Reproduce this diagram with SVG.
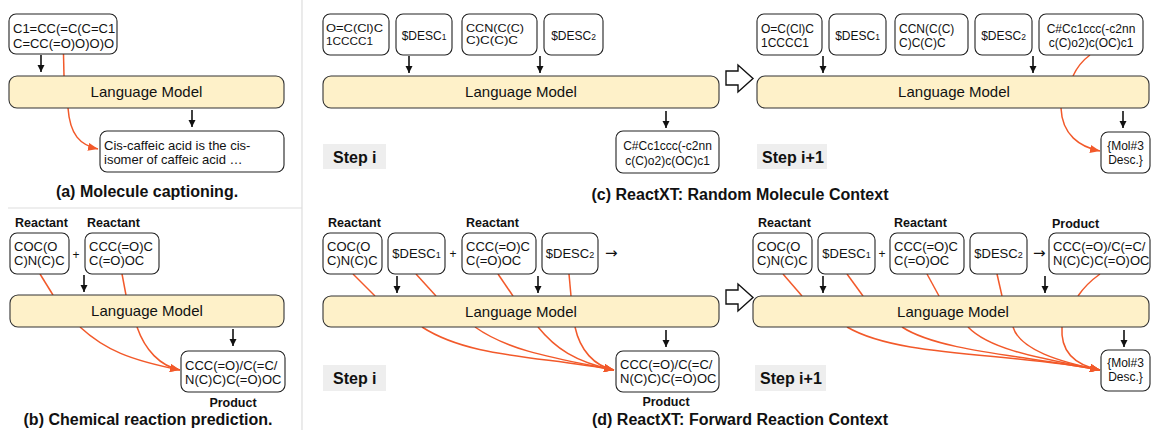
<svg xmlns="http://www.w3.org/2000/svg" width="1151" height="430" viewBox="0 0 1151 430">
<style>
text{font-family:"Liberation Sans",Arial,"DejaVu Sans",sans-serif;fill:#111}
.box{fill:#fff;stroke:#222;stroke-width:1.1}
.lm{fill:#fef1c9;stroke:#333;stroke-width:1.1}
.lmt{font-size:15px;text-anchor:middle}
.t13{font-size:13px}
.t12{font-size:12px}
.t11{font-size:11px}
.b{font-weight:bold}
.cap{font-size:16px;font-weight:bold;text-anchor:middle}
.lab{font-size:12.5px;font-weight:bold}
.mid{text-anchor:middle}
.arr{font-family:"DejaVu Sans",sans-serif;font-size:15px}
.step{fill:#eeeeee}
.stept{font-size:16px;font-weight:bold}
.blk{stroke:#111;stroke-width:1.6;fill:none;marker-end:url(#ab)}
.or{stroke:#f2592a;stroke-width:1.5;fill:none}
.ora{stroke:#f2592a;stroke-width:1.5;fill:none;marker-end:url(#ao)}
.sep{stroke:#dddddd;stroke-width:1.2}
.hol{fill:#fff;stroke:#111;stroke-width:1.4}
</style>
<defs>
<marker id="ab" markerUnits="userSpaceOnUse" markerWidth="8" markerHeight="8" refX="7" refY="3.5" orient="auto"><path d="M0,0 L7,3.5 L0,7 z" fill="#111"/></marker>
<marker id="ao" markerUnits="userSpaceOnUse" markerWidth="12" markerHeight="10" refX="10" refY="4" orient="auto"><path d="M0,0 L10,4 L0,8 z" fill="#f2592a"/></marker>
</defs>

<g id="separators">
<line class="sep" x1="302" y1="0" x2="302" y2="430"/>
<line class="sep" x1="8" y1="208" x2="302" y2="208"/>
</g>

<g id="connectors">
<!-- panel a -->
<line class="blk" x1="41" y1="55" x2="41" y2="72"/>
<line class="or" x1="63.5" y1="54" x2="64" y2="76"/>
<line class="blk" x1="192" y1="110" x2="192" y2="127"/>
<path class="ora" d="M68,108 C70,135 80,145 98,149"/>
<!-- panel b -->
<line class="or" x1="40" y1="274" x2="53" y2="295"/>
<line class="or" x1="122" y1="274" x2="126" y2="295"/>
<line class="blk" x1="84" y1="275" x2="84" y2="292"/>
<line class="blk" x1="233" y1="329" x2="233" y2="346"/>
<path class="ora" d="M80,327 C105,350 130,360 180,370"/>
<path class="ora" d="M137,327 C145,350 160,366 180,370"/>
<!-- panel c left -->
<line class="blk" x1="409" y1="56" x2="409" y2="73"/>
<line class="blk" x1="540" y1="56" x2="540" y2="73"/>
<line class="blk" x1="666" y1="111" x2="666" y2="128"/>
<!-- panel c right -->
<line class="blk" x1="823" y1="56" x2="823" y2="73"/>
<line class="blk" x1="1033" y1="56" x2="1033" y2="73"/>
<path class="or" d="M1090,55 Q1079,63 1073,76"/>
<line class="blk" x1="1123" y1="111" x2="1123" y2="128"/>
<path class="ora" d="M1061,108 C1062,135 1080,147 1100,151"/>
<!-- panel d left -->
<line class="or" x1="353" y1="274" x2="375" y2="296"/>
<line class="or" x1="416" y1="274" x2="436" y2="296"/>
<line class="or" x1="498" y1="274" x2="513" y2="296"/>
<path class="or" d="M569,274 Q570,285 571,296"/>
<line class="blk" x1="397" y1="276" x2="397" y2="293"/>
<line class="blk" x1="538" y1="276" x2="538" y2="293"/>
<line class="blk" x1="666" y1="330" x2="666" y2="347"/>
<path class="ora" d="M422,327 C470,358 540,356 614,370"/>
<path class="ora" d="M475,327 C510,352 560,359 614,370"/>
<path class="ora" d="M538,327 C555,348 575,362 614,370"/>
<path class="ora" d="M575,327 C580,350 594,366 614,370"/>
<!-- panel d right -->
<line class="or" x1="783" y1="274" x2="802" y2="296"/>
<line class="or" x1="847" y1="274" x2="863" y2="296"/>
<line class="or" x1="927" y1="274" x2="939" y2="296"/>
<line class="or" x1="997" y1="274" x2="1002" y2="296"/>
<path class="or" d="M1100,274 Q1086,284 1078,296"/>
<line class="blk" x1="823" y1="276" x2="823" y2="293"/>
<line class="blk" x1="1045" y1="276" x2="1045" y2="293"/>
<line class="blk" x1="1124" y1="330" x2="1124" y2="347"/>
<path class="ora" d="M847,327 C900,358 1010,352 1100,370"/>
<path class="ora" d="M902,327 C940,352 1030,356 1100,370"/>
<path class="ora" d="M968,327 C990,350 1040,358 1100,370"/>
<path class="ora" d="M1013,327 C1020,350 1060,362 1100,370"/>
<path class="ora" d="M1062,327 C1060,355 1080,366 1100,370"/>
<!-- step transition arrows -->
<polygon class="hol" points="726,71 738,71 738,65 753,78.5 738,92 738,85 726,85"/>
<polygon class="hol" points="726,290 738,290 738,284 753,297.5 738,311 738,304 726,304"/>
</g>

<!-- ===== Panel a ===== -->
<g id="a-input">
<rect class="box" x="9" y="14" width="108" height="40" rx="7"/>
<text class="t13" x="13" y="33">C1=CC(=C(C=C1</text>
<text class="t13" x="13" y="48">C=CC(=O)O)O)O</text>
</g>
<g id="a-lm">
<rect class="lm" x="9" y="76" width="275" height="32" rx="8"/>
<text class="lmt" x="146.5" y="97">Language Model</text>
</g>
<g id="a-output">
<rect class="box" x="100" y="131" width="184" height="41" rx="7"/>
<text class="t13" x="104" y="150">Cis-caffeic acid is the cis-</text>
<text class="t13" x="104" y="164">isomer of caffeic acid …</text>
</g>
<text class="cap" x="147" y="197">(a) Molecule captioning.</text>

<!-- ===== Panel b ===== -->
<g id="b-r1">
<text class="lab" x="15" y="227">Reactant</text>
<rect class="box" x="10" y="233" width="59" height="41" rx="7"/>
<text class="t13" x="14" y="250.5">COC(O</text>
<text class="t13" x="14" y="265">C)N(C)C</text>
</g>
<text class="t12" x="76" y="259" text-anchor="middle">+</text>
<g id="b-r2">
<text class="lab" x="87" y="227">Reactant</text>
<rect class="box" x="85" y="233" width="74" height="41" rx="7"/>
<text class="t13" x="89" y="250.5">CCC(=O)C</text>
<text class="t13" x="89" y="265">C(=O)OC</text>
</g>
<g id="b-lm">
<rect class="lm" x="10" y="295" width="274" height="32" rx="8"/>
<text class="lmt" x="147" y="316">Language Model</text>
</g>
<g id="b-product">
<rect class="box" x="181" y="351" width="104" height="41" rx="7"/>
<text class="t13" x="185" y="369.5">CCC(=O)/C(=C/</text>
<text class="t13" x="185" y="383.5">N(C)C)C(=O)OC</text>
<text class="lab mid" x="233" y="407">Product</text>
</g>
<text class="cap" x="148" y="425">(b) Chemical reaction prediction.</text>

<!-- ===== Panel c left ===== -->
<g id="c1-m1">
<rect class="box" x="323" y="14" width="66" height="41" rx="7"/>
<text class="t11" x="326" y="32" textLength="57" lengthAdjust="spacingAndGlyphs">O=C(Cl)C</text>
<text class="t11" x="326" y="44.5" textLength="47" lengthAdjust="spacingAndGlyphs">1CCCC1</text>
</g>
<g id="c1-d1">
<rect class="box" x="396" y="14" width="56" height="41" rx="7"/>
<text class="t12 mid" x="424" y="39.5">$DESC<tspan font-size="8.5">1</tspan></text>
</g>
<g id="c1-m2">
<rect class="box" x="462" y="14" width="75" height="41" rx="7"/>
<text class="t11" x="466" y="31.5" textLength="58" lengthAdjust="spacingAndGlyphs">CCN(C(C)</text>
<text class="t11" x="466" y="44" textLength="52" lengthAdjust="spacingAndGlyphs">C)C(C)C</text>
</g>
<g id="c1-d2">
<rect class="box" x="544" y="14" width="59" height="41" rx="7"/>
<text class="t12 mid" x="573.5" y="39.5">$DESC<tspan font-size="8.5">2</tspan></text>
</g>
<g id="c1-lm">
<rect class="lm" x="323" y="76" width="396" height="32" rx="8"/>
<text class="lmt" x="521" y="97">Language Model</text>
</g>
<g id="c1-out">
<rect class="box" x="616" y="131" width="103" height="42" rx="7"/>
<text class="t12 mid" x="667.5" y="150">C#Cc1ccc(-c2nn</text>
<text class="t12 mid" x="667.5" y="165">c(C)o2)c(OC)c1</text>
</g>
<g id="c1-step">
<rect class="step" x="323" y="144" width="63" height="25"/>
<text class="stept" x="333" y="163">Step i</text>
</g>

<!-- ===== Panel c right ===== -->
<g id="c2-m1">
<rect class="box" x="757" y="14" width="65" height="41" rx="7"/>
<text class="t12" x="761" y="33">O=C(Cl)C</text>
<text class="t12" x="761" y="46.5">1CCCC1</text>
</g>
<g id="c2-d1">
<rect class="box" x="829" y="14" width="57" height="41" rx="7"/>
<text class="t12 mid" x="857.5" y="39.5">$DESC<tspan font-size="8.5">1</tspan></text>
</g>
<g id="c2-m2">
<rect class="box" x="895" y="14" width="73" height="41" rx="7"/>
<text class="t12" x="899" y="32.5">CCN(C(C)</text>
<text class="t12" x="899" y="46.5">C)C(C)C</text>
</g>
<g id="c2-d2">
<rect class="box" x="975" y="14" width="57" height="41" rx="7"/>
<text class="t12 mid" x="1003.5" y="39.5">$DESC<tspan font-size="8.5">2</tspan></text>
</g>
<g id="c2-m3">
<rect class="box" x="1039" y="14" width="104" height="41" rx="7"/>
<text class="t12 mid" x="1091" y="33">C#Cc1ccc(-c2nn</text>
<text class="t12 mid" x="1091" y="47">c(C)o2)c(OC)c1</text>
</g>
<g id="c2-lm">
<rect class="lm" x="757" y="76" width="392" height="32" rx="8"/>
<text class="lmt" x="954" y="97">Language Model</text>
</g>
<g id="c2-out">
<rect class="box" x="1101" y="132" width="49" height="41" rx="7"/>
<text class="t12 mid" x="1125.5" y="150">{Mol#3</text>
<text class="t12 mid" x="1125.5" y="164">Desc.}</text>
</g>
<g id="c2-step">
<rect class="step" x="757" y="144" width="70" height="25"/>
<text class="stept" x="762" y="163">Step i+1</text>
</g>
<text class="cap" x="740" y="200">(c) ReactXT: Random Molecule Context</text>

<!-- ===== Panel d left ===== -->
<g id="d1-r1">
<text class="lab" x="328" y="227">Reactant</text>
<rect class="box" x="323" y="233" width="59" height="41" rx="7"/>
<text class="t13" x="327" y="250.5">COC(O</text>
<text class="t13" x="327" y="265">C)N(C)C</text>
</g>
<g id="d1-d1">
<rect class="box" x="388" y="233" width="57" height="41" rx="7"/>
<text class="t13 mid" x="416.5" y="258">$DESC<tspan font-size="9">1</tspan></text>
</g>
<text class="t12 mid" x="453" y="258">+</text>
<g id="d1-r2">
<text class="lab" x="466" y="227">Reactant</text>
<rect class="box" x="462" y="233" width="74" height="41" rx="7"/>
<text class="t13" x="466" y="250.5">CCC(=O)C</text>
<text class="t13" x="466" y="265">C(=O)OC</text>
</g>
<g id="d1-d2">
<rect class="box" x="542" y="233" width="56" height="41" rx="7"/>
<text class="t13 mid" x="570" y="258">$DESC<tspan font-size="9">2</tspan></text>
</g>
<text class="arr" x="605" y="258">→</text>
<g id="d1-lm">
<rect class="lm" x="323" y="296" width="396" height="31" rx="8"/>
<text class="lmt" x="521" y="316.5">Language Model</text>
</g>
<g id="d1-product">
<rect class="box" x="616" y="351" width="103" height="41" rx="7"/>
<text class="t13" x="620" y="368.5">CCC(=O)/C(=C/</text>
<text class="t13" x="620" y="383">N(C)C)C(=O)OC</text>
<text class="lab mid" x="666" y="406">Product</text>
</g>
<g id="d1-step">
<rect class="step" x="323" y="365" width="63" height="26"/>
<text class="stept" x="333" y="384">Step i</text>
</g>

<!-- ===== Panel d right ===== -->
<g id="d2-r1">
<text class="lab" x="758" y="227">Reactant</text>
<rect class="box" x="753" y="233" width="59" height="41" rx="7"/>
<text class="t13" x="757" y="250.5">COC(O</text>
<text class="t13" x="757" y="265">C)N(C)C</text>
</g>
<g id="d2-d1">
<rect class="box" x="818" y="233" width="57" height="41" rx="7"/>
<text class="t13 mid" x="846.5" y="258">$DESC<tspan font-size="9">1</tspan></text>
</g>
<text class="t12 mid" x="882" y="258">+</text>
<g id="d2-r2">
<text class="lab" x="894" y="227">Reactant</text>
<rect class="box" x="890" y="233" width="74" height="41" rx="7"/>
<text class="t13" x="894" y="250.5">CCC(=O)C</text>
<text class="t13" x="894" y="265">C(=O)OC</text>
</g>
<g id="d2-d2">
<rect class="box" x="970" y="233" width="57" height="41" rx="7"/>
<text class="t13 mid" x="998.5" y="258">$DESC<tspan font-size="9">2</tspan></text>
</g>
<text class="arr" x="1033" y="258">→</text>
<g id="d2-p">
<text class="lab" x="1052" y="228">Product</text>
<rect class="box" x="1049" y="233" width="101" height="41" rx="7"/>
<text class="t13" x="1053" y="250.5">CCC(=O)/C(=C/</text>
<text class="t13" x="1053" y="265">N(C)C)C(=O)OC</text>
</g>
<g id="d2-lm">
<rect class="lm" x="753" y="296" width="396" height="31" rx="8"/>
<text class="lmt" x="953" y="316.5">Language Model</text>
</g>
<g id="d2-out">
<rect class="box" x="1101" y="350" width="49" height="41" rx="7"/>
<text class="t12 mid" x="1125.5" y="367">{Mol#3</text>
<text class="t12 mid" x="1125.5" y="381">Desc.}</text>
</g>
<g id="d2-step">
<rect class="step" x="755" y="365" width="71" height="26"/>
<text class="stept" x="760" y="384">Step i+1</text>
</g>
<text class="cap" x="740" y="425">(d) ReactXT: Forward Reaction Context</text>
</svg>
